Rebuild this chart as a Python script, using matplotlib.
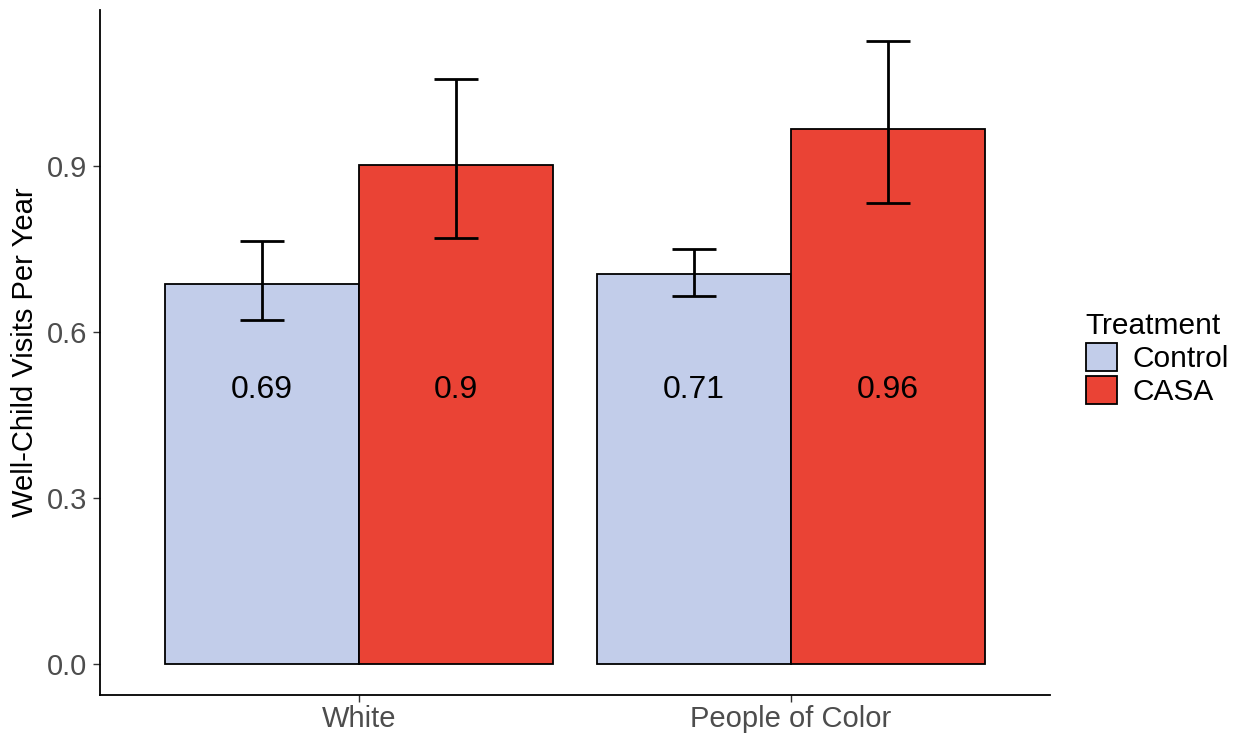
import matplotlib.pyplot as plt
import numpy as np

plt.rcParams['font.family'] = ['Liberation Sans', 'DejaVu Sans']

groups = ["White", "People of Color"]
treatments = ["Control", "CASA"]
colors = ["#C2CDEA", "#EA4335"]

means = {
    "Control": [0.687, 0.705],
    "CASA": [0.901, 0.966],
}
lower = {
    "Control": [0.621, 0.665],
    "CASA": [0.770, 0.832],
}
upper = {
    "Control": [0.764, 0.749],
    "CASA": [1.057, 1.125],
}
labels = {
    "Control": ["0.69", "0.71"],
    "CASA": ["0.9", "0.96"],
}

fig = plt.figure(figsize=(12.41, 7.33), dpi=100)
ax = fig.add_axes([100 / 1241, 38 / 733, 950 / 1241, 685 / 733])

x = np.arange(1, len(groups) + 1)
width = 0.45
for i, t in enumerate(treatments):
    xs = x + (i - 0.5) * width
    m = np.array(means[t])
    ax.bar(xs, m, width=width, color=colors[i], edgecolor="black",
           linewidth=1.3, label=t, zorder=2)
    err = [m - np.array(lower[t]), np.array(upper[t]) - m]
    ax.errorbar(xs, m, yerr=err, fmt="none", ecolor="black",
                elinewidth=2, capsize=16, capthick=2, zorder=3)
    for xi, lab in zip(xs, labels[t]):
        ax.text(xi, 0.495, lab, ha="center", va="center", fontsize=23,
                color="black", zorder=4)

ax.set_xlim(0.4, 2.6)
ax.set_ylim(-0.056, 1.181)
ax.set_xticks(x)
ax.set_xticklabels(groups)
ax.set_yticks([0.0, 0.3, 0.6, 0.9])
ax.set_yticklabels(["0.0", "0.3", "0.6", "0.9"])
ax.tick_params(axis="both", labelsize=21, labelcolor="#4D4D4D",
               color="#333333", length=5, width=1)
ax.tick_params(axis="x", pad=2)
ax.tick_params(axis="y", pad=4)
ax.set_ylabel("Well-Child Visits Per Year", fontsize=21, labelpad=6)

for s in ["top", "right"]:
    ax.spines[s].set_visible(False)
for s in ["left", "bottom"]:
    ax.spines[s].set_linewidth(1.3)

leg = ax.legend(title="Treatment", loc="center left",
                bbox_to_anchor=(1.022, 0.49), frameon=False, borderpad=0,
                fontsize=21.5, title_fontsize=21.5, handlelength=1.05,
                handleheight=1.05, handletextpad=0.5, labelspacing=0.1)
leg._legend_box.align = "left"

fig.savefig("out.png", dpi=100)
